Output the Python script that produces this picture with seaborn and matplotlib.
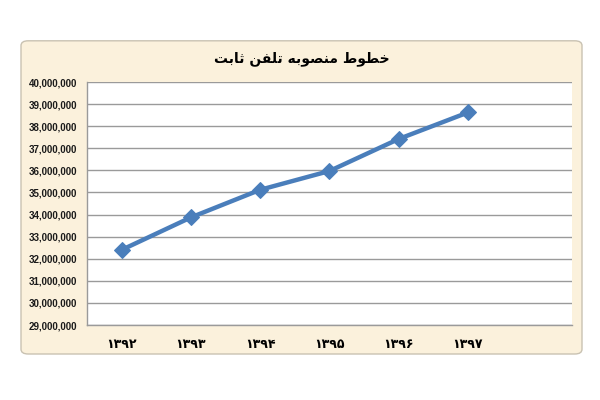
import pandas as pd
import matplotlib
matplotlib.use("Agg")
import matplotlib.pyplot as plt
import seaborn as sns
from matplotlib.patches import FancyBboxPatch
from matplotlib.ticker import FuncFormatter, FixedLocator

# data (fixed telephone lines installed)
years = ["۱۳۹۲", "۱۳۹۳", "۱۳۹۴", "۱۳۹۵", "۱۳۹۶", "۱۳۹۷"]
lines = [32400000, 33870000, 35120000, 35970000, 37420000, 38620000]
title = "خطوط منصوبه تلفن ثابت"

# minimal arabic shaping (matplotlib has no bidi/shaping)
# letter: (isolated, final, initial, medial); None initial -> right-joining only
forms = {
    "ا": ("\uFE8D", "\uFE8E", None, None),
    "ب": ("\uFE8F", "\uFE90", "\uFE91", "\uFE92"),
    "ت": ("\uFE95", "\uFE96", "\uFE97", "\uFE98"),
    "ث": ("\uFE99", "\uFE9A", "\uFE9B", "\uFE9C"),
    "خ": ("\uFEA5", "\uFEA6", "\uFEA7", "\uFEA8"),
    "ص": ("\uFEB9", "\uFEBA", "\uFEBB", "\uFEBC"),
    "ط": ("\uFEC1", "\uFEC2", "\uFEC3", "\uFEC4"),
    "ف": ("\uFED1", "\uFED2", "\uFED3", "\uFED4"),
    "ل": ("\uFEDD", "\uFEDE", "\uFEDF", "\uFEE0"),
    "م": ("\uFEE1", "\uFEE2", "\uFEE3", "\uFEE4"),
    "ن": ("\uFEE5", "\uFEE6", "\uFEE7", "\uFEE8"),
    "ه": ("\uFEE9", "\uFEEA", "\uFEEB", "\uFEEC"),
    "و": ("\uFEED", "\uFEEE", None, None),
}


def shape_word(w):
    out = []
    for i, ch in enumerate(w):
        f = forms[ch]
        prev = w[i - 1] if i > 0 else None
        nxt = w[i + 1] if i < len(w) - 1 else None
        join_prev = prev is not None and forms[prev][2] is not None
        join_next = nxt is not None and f[2] is not None
        if join_prev and join_next:
            out.append(f[3])
        elif join_prev:
            out.append(f[1])
        elif join_next:
            out.append(f[2])
        else:
            out.append(f[0])
    return "".join(reversed(out))


def rtl(s):
    return " ".join(shape_word(w) for w in reversed(s.split(" ")))


df = pd.DataFrame({"year": years, "lines": lines})

sns.set_style("white")
plt.rcParams["font.family"] = ["DejaVu Sans"]

fig = plt.figure(figsize=(6, 4), dpi=100)
fig.patch.set_facecolor("white")

# cream chart frame
frame = FancyBboxPatch((0.035, 0.115), 0.935, 0.783,
                       boxstyle="round,pad=0,rounding_size=0.012",
                       transform=fig.transFigure, facecolor="#fbf1dc",
                       edgecolor="#c9c2b2", linewidth=1.0, zorder=-5)
fig.patches.append(frame)

ax = fig.add_axes([0.145, 0.1875, 0.808, 0.6075])
ax.set_zorder(2)
ax.set_facecolor("white")

sns.lineplot(data=df, x="year", y="lines", ax=ax, color="#4a7ebb",
             linewidth=3.2, marker="D", markersize=8.5,
             markeredgecolor="#4a7ebb", zorder=3)

ax.set_xlim(-0.5, 6.5)
ax.set_ylim(29000000, 40000000)
ax.set_yticks(range(29000000, 40000001, 1000000))
ax.yaxis.set_major_formatter(FuncFormatter(lambda v, p: f"{int(v):,}"))
ax.grid(axis="y", color="#9a9a9a", linewidth=1.0)
ax.set_axisbelow(True)

ax.xaxis.set_minor_locator(FixedLocator([i - 0.5 for i in range(8)]))
ax.tick_params(axis="x", which="major", length=0, pad=9,
               labelsize=9, labelcolor="black")
ax.tick_params(axis="x", which="minor", length=4, color="#9a9a9a",
               direction="out")
ax.tick_params(axis="y", length=4, color="#9a9a9a", direction="out",
               labelsize=7, pad=3, labelcolor="#1a1a1a")
for lab in ax.get_xticklabels():
    lab.set_fontweight("bold")
for lab in ax.get_yticklabels():
    lab.set_fontweight("bold")
    lab.set_family("Liberation Sans")

for s in ["top", "right"]:
    ax.spines[s].set_visible(False)
for s in ["left", "bottom"]:
    ax.spines[s].set_color("#9a9a9a")
    ax.spines[s].set_linewidth(1.0)

ax.set_xlabel("")
ax.set_ylabel("")

fig.text(0.503, 0.853, rtl(title), ha="center", va="center",
         fontsize=10, fontweight="bold", color="black")

fig.savefig("out.png", dpi=100)
